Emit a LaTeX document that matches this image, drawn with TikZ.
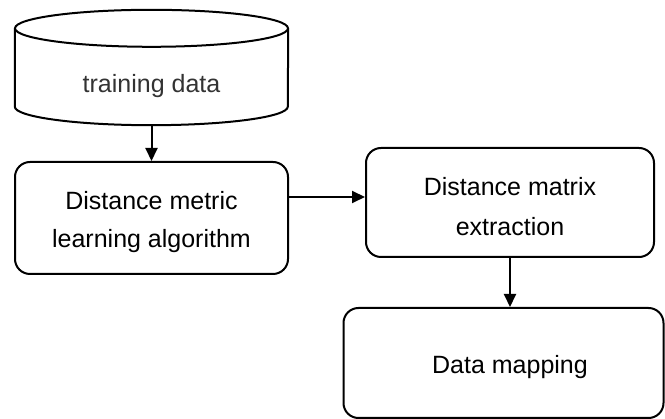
\documentclass[tikz,border=0pt]{standalone}
\usepackage{fontspec}
\setmainfont{Liberation Sans}
\usepackage{xcolor}
\usetikzlibrary{arrows.meta}
\definecolor{datatext}{RGB}{51,51,51}
\newcommand{\nudge}[1]{\raisebox{-4pt}[\height][\depth]{#1}}
\tikzstyle{process}=[draw, line width=2pt, rounded corners=15pt, align=center, font=\fontsize{25}{38}\selectfont]
\tikzstyle{store}=[align=center, text=datatext, font=\fontsize{25}{38}\selectfont, minimum width=273pt, minimum height=86pt, inner sep=0pt]
\tikzstyle{flow}=[-{Triangle[length=13pt,width=12pt]}, line width=2pt]

\begin{document}
\begin{tikzpicture}[x=1pt,y=-1pt]
  \fill[white] (0,0) rectangle (665,419);
  \useasboundingbox (0,0) rectangle (665,419);

  %% Cylinder
  \draw (151.5,82) node[store] (Data) {\nudge{training data}};
  \draw[line width=2pt] ([yshift=10.5pt]Data.north) ellipse [x radius=136.5pt, y radius=18.5pt];
  \draw[line width=2pt] ([yshift=10.5pt]Data.north west) -- ([yshift=18.5pt]Data.south west)
    arc[start angle=180, end angle=360, x radius=136.5pt, y radius=18.5pt] -- ([yshift=10.5pt]Data.north east);

  %% Boxes
  \draw (151.5,218) node[process, minimum width=273pt, minimum height=112pt] (Learn) {\nudge{Distance metric}\\\nudge{learning algorithm}};
  \draw (510,202.5) node[process, minimum width=288pt, minimum height=109pt] (Matrix) {\nudge{Distance matrix}\\[2pt]\nudge{extraction}};
  \draw (503.5,363) node[process, minimum width=320pt, minimum height=110pt] (Map) {\hspace{13pt}\nudge{Data mapping}};

  %% Arrows
  \draw[flow] (Data.south) -- (Learn.north);
  \draw[flow] ([yshift=21pt]Learn.east) -- ([yshift=21pt]Learn.east -| Matrix.west);
  \draw[flow] (Matrix.south) -- (Matrix.south |- Map.north);
\end{tikzpicture}
\end{document}
